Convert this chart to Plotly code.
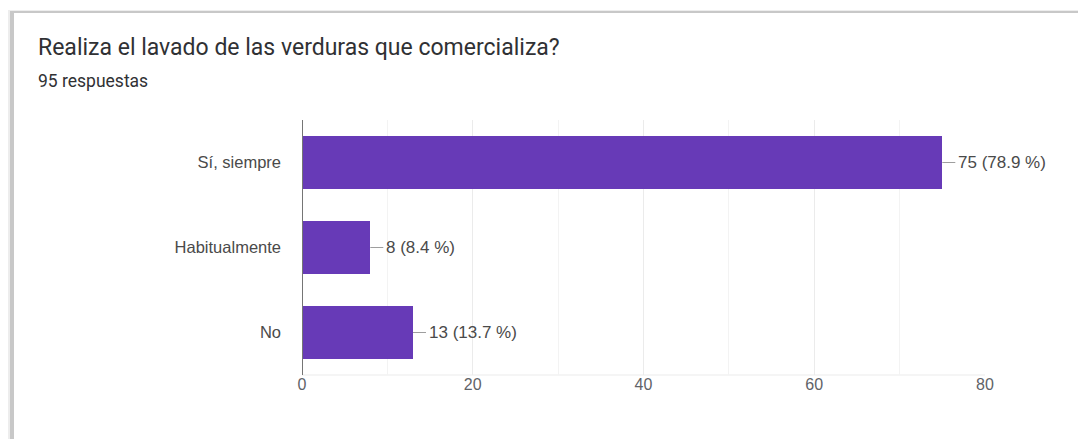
import plotly.graph_objects as go

categories = ["Sí, siempre", "Habitualmente", "No"]
counts = [75, 8, 13]
percents = [78.9, 8.4, 13.7]
x_ticks = [0, 20, 40, 60, 80]
title = "Realiza el lavado de las verduras que comercializa?"
subtitle = "95 respuestas"

OFF = 8  # default page body margin
W, H = 1086 - OFF, 439 - OFF
L, R, T, B = 302 - OFF, 101, 120 - OFF, 72 - OFF
PW, PH = W - L - R, H - T - B

def px_x(px):
    return (px - OFF - L) / PW

def px_y(py):
    return 1 - (py - OFF - T) / PH

fig = go.Figure()
fig.add_trace(go.Bar(
    y=categories, x=counts, orientation="h",
    marker=dict(color="#673ab7", line=dict(width=0)),
    width=0.62, hoverinfo="skip",
))

shapes = []
shapes.append(dict(type="rect", xref="paper", yref="paper", layer="below",
                   x0=px_x(8), x1=px_x(1100), y0=px_y(470), y1=px_y(10),
                   fillcolor="#ededed", line=dict(width=0)))
shapes.append(dict(type="rect", xref="paper", yref="paper", layer="below",
                   x0=px_x(10), x1=px_x(1100), y0=px_y(470), y1=px_y(11),
                   fillcolor="#c8c8c8", line=dict(width=0)))
shapes.append(dict(type="rect", xref="paper", yref="paper", layer="below",
                   x0=px_x(14), x1=px_x(1100), y0=px_y(470), y1=px_y(13),
                   fillcolor="#ffffff", line=dict(width=0)))

annotations = [
    dict(text=title, xref="paper", yref="paper", x=px_x(36), y=px_y(47),
         xanchor="left", yanchor="middle", showarrow=False,
         font=dict(family="Roboto", size=23, color="#303134")),
    dict(text=subtitle, xref="paper", yref="paper", x=px_x(36), y=px_y(81),
         xanchor="left", yanchor="middle", showarrow=False,
         font=dict(family="Roboto", size=17.5, color="#303134")),
]
for c, v, p in zip(categories, counts, percents):
    shapes.append(dict(type="line", xref="x", yref="y", xsizemode="pixel",
                       xanchor=v, x0=0, x1=13, y0=c, y1=c,
                       line=dict(color="#9e9e9e", width=1)))
    annotations.append(dict(text=f"{v} ({p} %)", x=v, y=c, xref="x", yref="y",
                            xanchor="left", yanchor="middle", xshift=14,
                            showarrow=False,
                            font=dict(family="Liberation Sans, Arial", size=17, color="#4a4a4a")))

fig.update_layout(
    width=W, height=H,
    margin=dict(l=L, r=R, t=T, b=B),
    paper_bgcolor="white", plot_bgcolor="white",
    showlegend=False, bargap=0,
    shapes=shapes, annotations=annotations,
    xaxis=dict(range=[0, 80], tickvals=x_ticks, showgrid=True, gridcolor="#ebebeb",
               minor=dict(dtick=10, showgrid=True, gridcolor="#f3f3f3"),
               zeroline=False, showline=False, ticks="", ticklabelstandoff=-2,
               tickfont=dict(family="Liberation Sans, Arial", size=16, color="#5f6368")),
    yaxis=dict(categoryorder="array", categoryarray=categories[::-1],
               range=[-0.5, 2.5], showgrid=False, zeroline=False,
               showline=False, ticks="", ticklabelstandoff=20,
               tickfont=dict(family="Liberation Sans, Arial", size=16.5, color="#4a4a4a")),
)
fig.add_shape(type="line", xref="x", yref="paper", x0=0, x1=0, y0=0, y1=1,
              line=dict(color="#757575", width=2))
fig.add_shape(type="line", xref="paper", yref="paper", x0=0, x1=1, y0=0, y1=0,
              line=dict(color="#ebebeb", width=1), layer="below")

fig.write_html("out.html")
